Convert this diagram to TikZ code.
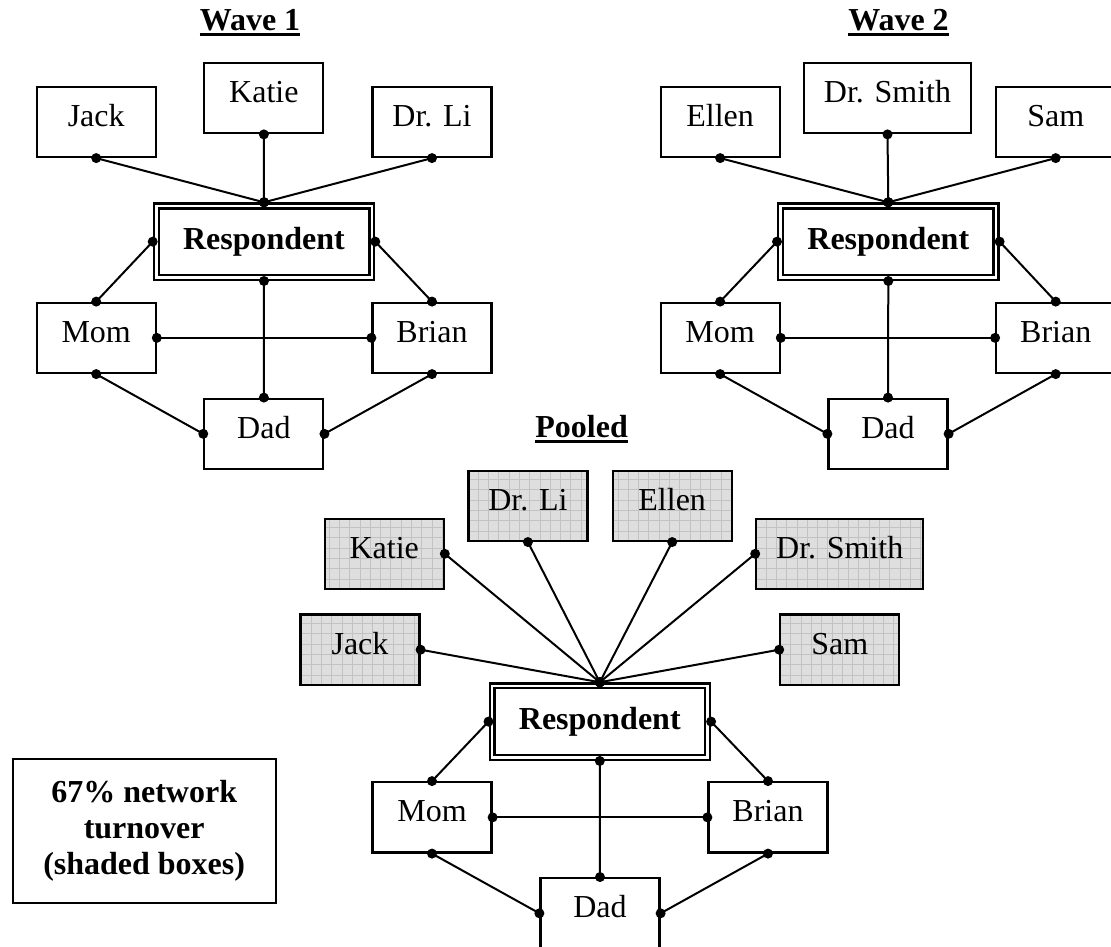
\documentclass[tikz,border=0pt]{standalone}
\usepackage{fontspec}
\setmainfont{Liberation Serif}
\newcommand\netdot[1]{\fill (#1) circle[radius=5pt];}
\newcommand\netlink[2]{\draw[conn] (#1) -- (#2); \netdot{#1}\netdot{#2}}
\begin{document}
\begin{tikzpicture}[x=1pt,y=-1pt,
  box/.style={draw, line width=2.2pt, minimum width=119pt, minimum height=70.3pt, inner sep=0pt,
    font=\fontsize{32}{36}\selectfont, text height=22pt, text depth=13pt},
  wide/.style={minimum width=167pt},
  shaded/.style={box, fill=black!13, path picture={\draw[black!24, line width=0.6pt]
    (path picture bounding box.north west) grid[step=10.3pt] (path picture bounding box.south east);}},
  resp/.style={draw, line width=2.4pt, double=white, double distance=2.4pt, minimum width=215.4pt,
    minimum height=71.5pt, outer sep=3.6pt, inner sep=0pt,
    font=\bfseries\fontsize{32}{36}\selectfont, text height=22pt, text depth=7pt},
  title/.style={font=\bfseries\fontsize{32}{36}\selectfont, inner sep=0pt, anchor=base},
  conn/.style={line width=2pt},
  uline/.style={line width=2.6pt},
]
\useasboundingbox (0,0) rectangle (1111,947);

% ---------- Wave 1 ----------
\node[title] (t1) at (250,31) {Wave 1};
\draw[uline] ([yshift=-3.8pt]t1.base west) -- ([yshift=-3.8pt]t1.base east);
\node[box] (jack1) at (96.2,121.85) {Jack};
\node[box] (katie1) at (263.85,98.15) {Katie};
\node[box] (drli1) at (432,121.85) {Dr. Li};
\node[resp] (resp1) at (264,241.65) {Respondent};
\node[box] (mom1) at (96.2,337.85) {Mom};
\node[box] (brian1) at (432,337.85) {Brian};
\node[box] (dad1) at (263.85,433.85) {Dad};
\netlink{jack1.south}{resp1.north}
\netlink{katie1.south}{resp1.north}
\netlink{drli1.south}{resp1.north}
\netlink{resp1.west}{mom1.north}
\netlink{resp1.east}{brian1.north}
\netlink{resp1.south}{dad1.north}
\netlink{mom1.east}{brian1.west}
\netlink{mom1.south}{dad1.west}
\netlink{brian1.south}{dad1.east}

% ---------- Wave 2 ----------
\node[title] (t2) at (898.5,31) {Wave 2};
\draw[uline] ([yshift=-3.8pt]t2.base west) -- ([yshift=-3.8pt]t2.base east);
\node[box] (ellen2) at (720.15,121.85) {Ellen};
\node[box,wide] (smith2) at (887.5,98.15) {Dr. Smith};
\node[box] (sam2) at (1055.7,121.85) {Sam};
\node[resp] (resp2) at (888.3,241.65) {Respondent};
\node[box] (mom2) at (720.15,337.85) {Mom};
\node[box] (brian2) at (1055.7,337.85) {Brian};
\node[box] (dad2) at (888,433.85) {Dad};
\netlink{ellen2.south}{resp2.north}
\netlink{smith2.south}{resp2.north}
\netlink{sam2.south}{resp2.north}
\netlink{resp2.west}{mom2.north}
\netlink{resp2.east}{brian2.north}
\netlink{resp2.south}{dad2.north}
\netlink{mom2.east}{brian2.west}
\netlink{mom2.south}{dad2.west}
\netlink{brian2.south}{dad2.east}

% ---------- Pooled ----------
\node[title] (t3) at (581.6,437) {Pooled};
\draw[uline] ([yshift=-4.5pt]t3.base west) -- ([yshift=-4.5pt]t3.base east);
\node[shaded] (drli3) at (527.9,505.8) {Dr. Li};
\node[shaded] (ellen3) at (672.2,505.8) {Ellen};
\node[shaded] (katie3) at (384.2,553.8) {Katie};
\node[shaded,wide] (smith3) at (839.8,553.8) {Dr. Smith};
\node[shaded] (jack3) at (360,649.7) {Jack};
\node[shaded] (sam3) at (839.8,649.7) {Sam};
\node[resp] (resp3) at (599.8,721.6) {Respondent};
\node[box] (mom3) at (432,817.35) {Mom};
\node[box] (brian3) at (768,817.35) {Brian};
\node[box] (dad3) at (600,913.3) {Dad};
\netlink{drli3.south}{resp3.north}
\netlink{ellen3.south}{resp3.north}
\netlink{katie3.east}{resp3.north}
\netlink{smith3.west}{resp3.north}
\netlink{jack3.east}{resp3.north}
\netlink{sam3.west}{resp3.north}
\netlink{resp3.west}{mom3.north}
\netlink{resp3.east}{brian3.north}
\netlink{resp3.south}{dad3.north}
\netlink{mom3.east}{brian3.west}
\netlink{mom3.south}{dad3.west}
\netlink{brian3.south}{dad3.east}

% ---------- Note ----------
\node[draw, line width=2.2pt, minimum width=263pt, minimum height=144pt, inner sep=0pt, align=center,
  font=\bfseries\fontsize{32}{36}\selectfont] (note) at (144.2,830.7)
  {67\% network\\turnover\\(shaded boxes)};
\end{tikzpicture}
\end{document}
